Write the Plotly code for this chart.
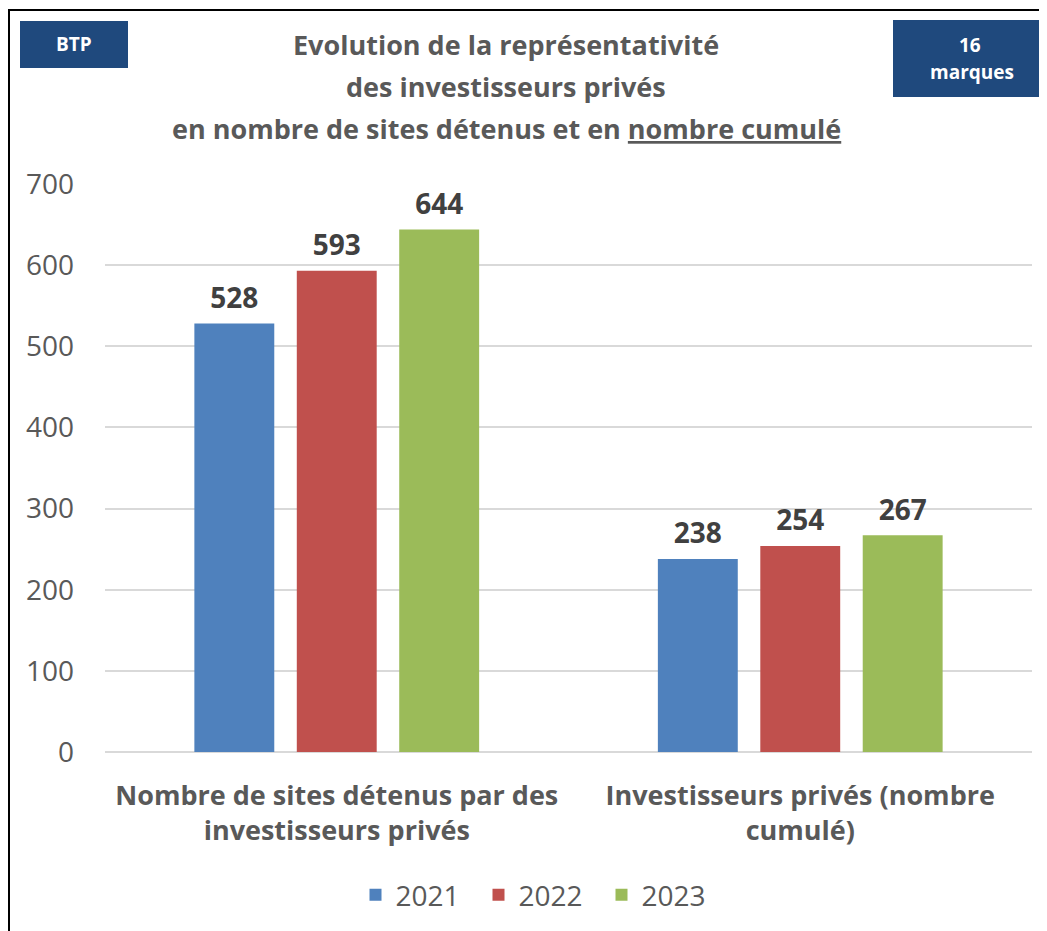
import plotly.graph_objects as go

categories = ["Nombre de sites détenus par des<br>investisseurs privés",
              "Investisseurs privés (nombre<br>cumulé)"]
years = ["2021", "2022", "2023"]
values = {
    "2021": [528, 238],
    "2022": [593, 254],
    "2023": [644, 267],
}
colors = {"2021": "#4F81BD", "2022": "#C0504D", "2023": "#9BBB59"}
y_ticks = [0, 100, 200, 300, 400, 500, 600, 700]

W, H = 1047, 931
OFF = 8  # page body margin
FONT = "Open Sans"
GAP = 0.337

fig = go.Figure()
for yr in years:
    fig.add_trace(go.Bar(
        name=yr, x=categories, y=values[yr],
        marker=dict(color=colors[yr], line=dict(width=0)),
        hoverinfo="skip",
    ))
for yr in years:
    fig.add_trace(go.Scatter(
        x=categories, y=values[yr], mode="markers+text", showlegend=False,
        text=[str(v) for v in values[yr]], textposition="top center",
        marker=dict(size=12, color="rgba(0,0,0,0)"),
        textfont=dict(family=FONT, size=28, color="#404040", weight="bold"),
        cliponaxis=False, hoverinfo="skip",
    ))

def px(x): return (x - OFF) / W
def py(y): return 1 - (y - OFF) / H

fig.update_layout(
    template="none",
    width=W, height=H, margin=dict(l=0, r=0, t=0, b=0, autoexpand=False),
    paper_bgcolor="white", plot_bgcolor="white",
    barmode="group", bargap=GAP, bargroupgap=0.22,
    scattermode="group", scattergap=GAP,
    font=dict(family=FONT, color="#595959"),
    showlegend=True,
    legend=dict(orientation="h", x=px(540), xanchor="center", y=py(895), yanchor="middle",
                font=dict(family=FONT, size=28, color="#595959"),
                entrywidth=78, entrywidthmode="pixels",
                traceorder="normal", bgcolor="rgba(0,0,0,0)"),
    xaxis=dict(domain=[px(105), px(1032)], showline=False, ticks="", automargin=False,
               tickfont=dict(family=FONT, size=27, color="#595959", weight="bold"),
               showgrid=False, zeroline=False, ticklabelstandoff=25),
    yaxis=dict(domain=[py(752), py(184)], range=[0, 700], tickvals=y_ticks, automargin=False,
               showgrid=True, gridcolor="#D9D9D9", gridwidth=2, zeroline=True,
               zerolinecolor="#D9D9D9", zerolinewidth=2, showline=False,
               tickfont=dict(family=FONT, size=28, color="#595959"), ticks="",
               ticklabelstandoff=30),
)

fig.add_shape(type="rect", xref="paper", yref="paper",
              x0=px(9), x1=px(1060), y0=-0.05, y1=py(10),
              line=dict(color="black", width=2), fillcolor="rgba(0,0,0,0)", layer="above")

fig.add_shape(type="rect", xref="paper", yref="paper",
              x0=px(20), x1=px(128), y0=py(68), y1=py(21),
              line=dict(width=0), fillcolor="#1F497D")
fig.add_annotation(xref="paper", yref="paper", x=px(73.5), y=py(44), text="<b>BTP</b>",
                   showarrow=False, xanchor="center", yanchor="middle",
                   font=dict(family=FONT, size=19, color="white"))
fig.add_shape(type="rect", xref="paper", yref="paper",
              x0=px(893), x1=px(1045), y0=py(97), y1=py(20),
              line=dict(width=0), fillcolor="#1F497D")
fig.add_annotation(xref="paper", yref="paper", x=px(970), y=py(45),
                   text="<b>16</b>", showarrow=False, xanchor="center", yanchor="middle",
                   font=dict(family=FONT, size=19, color="white"))
fig.add_annotation(xref="paper", yref="paper", x=px(972), y=py(72),
                   text="<b>marques</b>", showarrow=False, xanchor="center", yanchor="middle",
                   font=dict(family=FONT, size=19, color="white"))

title_lines = ["Evolution de la représentativité",
               "des investisseurs privés",
               "en nombre de sites détenus et en <span style='text-decoration:underline'>nombre cumulé</span>"]
for line, yc in zip(title_lines, [45, 87, 128]):
    fig.add_annotation(xref="paper", yref="paper", x=px(506), y=py(yc),
                       text="<b>" + line + "</b>", showarrow=False,
                       xanchor="center", yanchor="middle",
                       font=dict(family=FONT, size=27, color="#595959"))

fig.write_html("out.html")
